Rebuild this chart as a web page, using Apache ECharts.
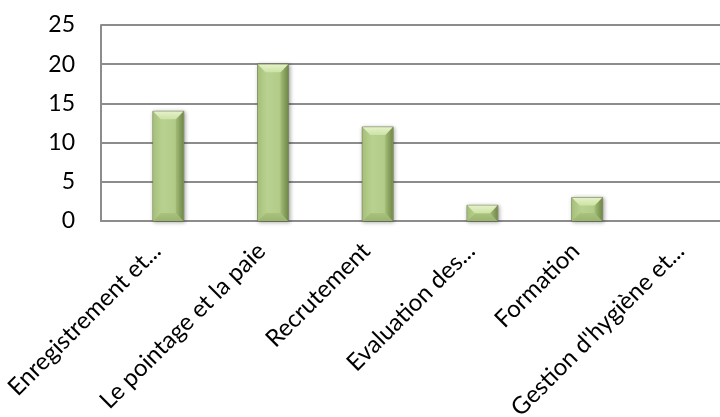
<!DOCTYPE html>
<html>
<head>
<meta charset="utf-8">
<script src="https://cdn.jsdelivr.net/npm/echarts@6/dist/echarts.min.js"></script>
<style>
  html, body { margin: 0; padding: 0; background: #fff; }
  #chart { width: 720px; height: 417px; }
</style>
</head>
<body>
<div id="chart"></div>
<script>
const categories = [
  "Enregistrement et...",
  "Le pointage et la paie",
  "Recrutement",
  "Evaluation des...",
  "Formation",
  "Gestion d'hygiène et..."
];
const values = [14, 20, 12, 2, 3, 0];
const yTicks = [0, 5, 10, 15, 20, 25];

const chart = echarts.init(document.getElementById("chart"), null, { renderer: "canvas" });

const BAR_W = 31;
const BEVEL = 8;
// rotated labels end a little left of the slot centre
const LABEL_SHIFT = 0.11;

const lin = (x0, y0, x1, y1, stops) =>
  new echarts.graphic.LinearGradient(x0, y0, x1, y1, stops.map((c, k) => ({ offset: k / (stops.length - 1), color: c })));

// Excel-like bevelled column: face + four slanted edges
function renderBar(params, api) {
  const v = api.value(1);
  const top = api.coord([api.value(0), v]);
  const base = api.coord([api.value(0), 0]);
  const x0 = top[0] - BAR_W / 2, x1 = x0 + BAR_W;
  const y0 = top[1], y1 = base[1];
  const h = y1 - y0;
  if (h < 0.5) return null;
  const b = Math.min(BEVEL, h / 2);
  return {
    type: "group",
    children: [
      {
        type: "rect",
        shape: { x: x0, y: y0, width: BAR_W, height: h },
        style: {
          fill: lin(0, 0, 1, 0, ["#a9c37e", "#b8d190", "#b3cc89", "#9fb872"]),
          stroke: "#5f7040",
          lineWidth: 0.6,
          shadowColor: "rgba(0,0,0,0.35)",
          shadowBlur: 4,
          shadowOffsetX: 1,
          shadowOffsetY: 1
        }
      },
      {
        type: "polygon",
        shape: { points: [[x0 + 0.5, y1], [x0 + b, y1 - b], [x1 - b, y1 - b], [x1 - 0.5, y1]] },
        style: { fill: lin(0, 0, 0, 1, ["#a9c27d", "#9ab36d"]) }
      },
      {
        type: "polygon",
        shape: { points: [[x0 + 0.5, y0], [x0 + b, y0 + b], [x0 + b, y1 - b], [x0 + 0.5, y1]] },
        style: { fill: lin(0, 0, 1, 0, ["#a6c07a", "#b6cf8c"]) }
      },
      {
        type: "polygon",
        shape: { points: [[x1 - 0.5, y0], [x1 - b, y0 + b], [x1 - b, y1 - b], [x1 - 0.5, y1]] },
        style: { fill: lin(0, 0, 1, 0, ["#a2bb75", "#72894b"]) }
      },
      {
        type: "polygon",
        shape: { points: [[x0 + 0.5, y0 + 0.3], [x1 - 0.5, y0 + 0.3], [x1 - b, y0 + b], [x0 + b, y0 + b]] },
        style: { fill: lin(0, 0, 0, 1, ["#e4f1c6", "#cde2a6"]) }
      }
    ]
  };
}

const option = {
  backgroundColor: "#fff",
  animation: false,
  grid: { left: 101, right: 0, top: 25, bottom: 196, outerBoundsMode: "none" },
  xAxis: {
    // value axis so the slots line up with the cropped source: first slot centre at 168px, 104.7px apart
    type: "value",
    min: -0.643,
    max: 5.269,
    axisLine: { show: true, onZero: false, lineStyle: { color: "#8c8c8c", width: 2 } },
    axisTick: { show: false },
    splitLine: { show: false },
    axisLabel: {
      customValues: categories.map((_, i) => i - LABEL_SHIFT),
      formatter: (v) => categories[Math.round(v + LABEL_SHIFT)] || "",
      hideOverlap: false,
      showMinLabel: true,
      showMaxLabel: true,
      rotate: 45,
      margin: 26,
      color: "#000",
      fontSize: 24,
      fontFamily: "Lato"
    }
  },
  yAxis: {
    type: "value",
    min: 0,
    max: 25,
    interval: 5,
    axisLine: { show: true, onZero: false, lineStyle: { color: "#8c8c8c", width: 2 } },
    axisTick: { show: false },
    splitLine: { lineStyle: { color: "#8c8c8c", width: 2 } },
    axisLabel: {
      color: "#000",
      fontSize: 23,
      fontFamily: "Lato",
      margin: 26,
      formatter: (v) => (yTicks.includes(v) ? String(v) : "")
    }
  },
  series: [{
    type: "custom",
    renderItem: renderBar,
    encode: { x: 0, y: 1 },
    data: values.map((v, i) => [i, v])
  }]
};

chart.setOption(option);
</script>
</body>
</html>
